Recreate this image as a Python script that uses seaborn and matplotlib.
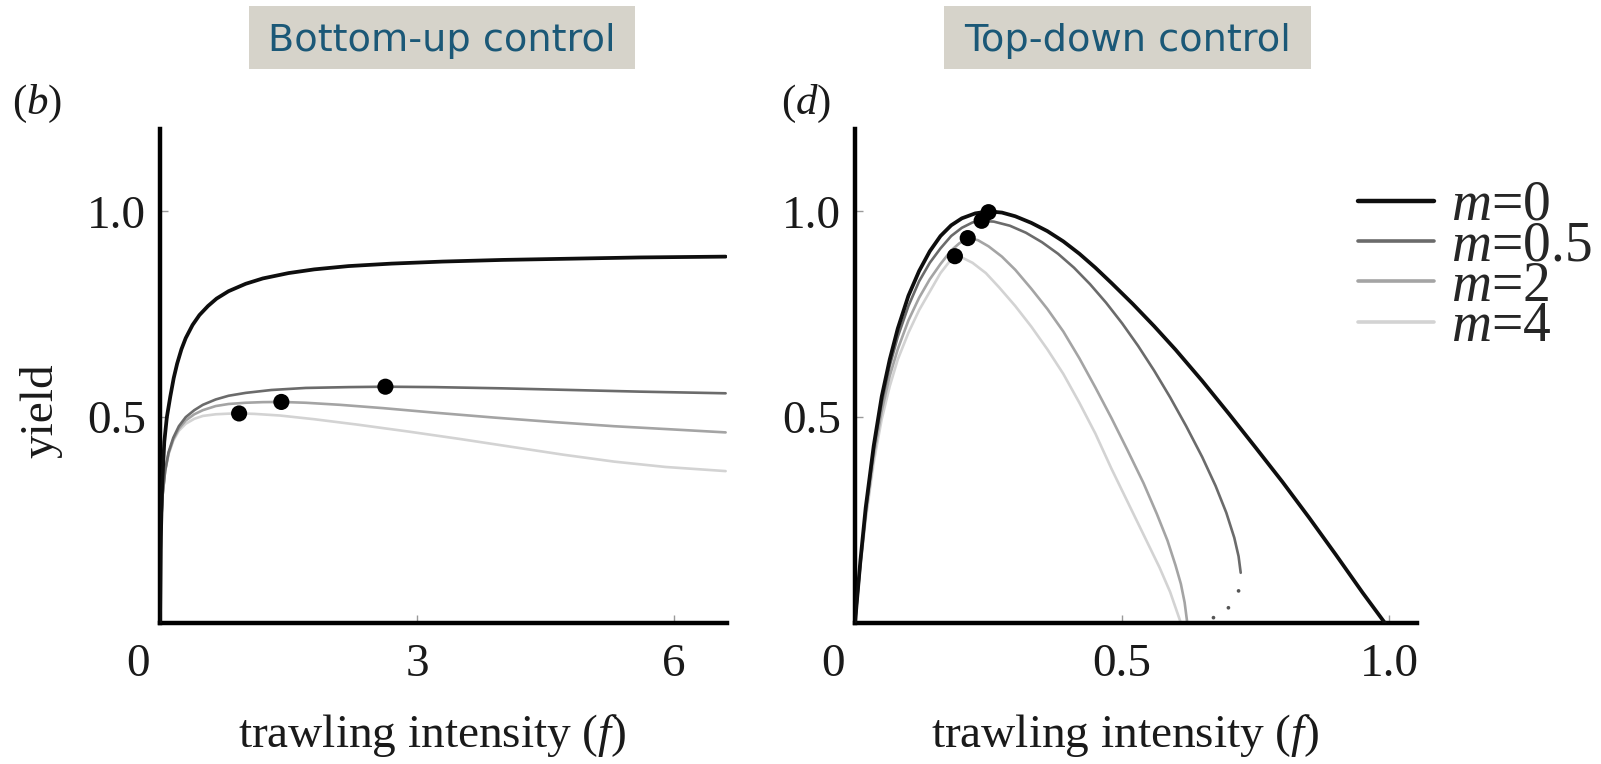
import numpy as np
import pandas as pd
import matplotlib
matplotlib.use("Agg")
import matplotlib.pyplot as plt
import matplotlib.transforms as mtransforms
from matplotlib.patches import Rectangle
from matplotlib.lines import Line2D
import seaborn as sns

# ---------------- data ----------------
m_levels = ["0", "0.5", "2", "4"]
legend_labels = ["$m$=0", "$m$=0.5", "$m$=2", "$m$=4"]
panel_titles = ["Bottom-up control", "Top-down control"]
panel_tags = ["($b$)", "($d$)"]

# Bottom-up control (panel b)
bu_f_m0 = [0, 0.01, 0.025, 0.05, 0.08, 0.12, 0.16, 0.2, 0.25, 0.3, 0.38, 0.46, 0.56, 0.66,
           0.8, 1.0, 1.2, 1.5, 1.8, 2.2, 2.7, 3.3, 4.0, 4.8, 5.6, 6.6]
bu_y_m0 = [0, 0.21, 0.335, 0.44, 0.50, 0.55, 0.595, 0.63, 0.665, 0.692, 0.724, 0.748, 0.77, 0.788,
           0.806, 0.824, 0.837, 0.85, 0.859, 0.867, 0.873, 0.878, 0.882, 0.885, 0.888, 0.89]
bu_f_m05 = [0, 0.005, 0.015, 0.03, 0.06, 0.1, 0.155, 0.22, 0.3, 0.4, 0.5, 0.65, 0.8, 1.0,
            1.3, 1.7, 2.2, 2.63, 3.2, 4.0, 4.8, 5.6, 6.6]
bu_y_m05 = [0, 0.15, 0.25, 0.31, 0.37, 0.415, 0.45, 0.478, 0.50, 0.517, 0.53, 0.543, 0.552, 0.559,
            0.566, 0.571, 0.573, 0.574, 0.573, 0.57, 0.566, 0.562, 0.558]
bu_f_m2 = [0, 0.005, 0.015, 0.03, 0.06, 0.1, 0.155, 0.22, 0.3, 0.4, 0.5, 0.65, 0.8, 1.0,
           1.2, 1.416, 1.7, 2.1, 2.6, 3.2, 3.9, 4.6, 5.3, 6.0, 6.6]
bu_y_m2 = [0, 0.15, 0.25, 0.31, 0.37, 0.412, 0.446, 0.472, 0.492, 0.507, 0.517, 0.527, 0.532, 0.535,
           0.5365, 0.537, 0.535, 0.53, 0.522, 0.511, 0.499, 0.488, 0.478, 0.47, 0.463]
bu_f_m4 = [0, 0.005, 0.015, 0.03, 0.06, 0.1, 0.155, 0.22, 0.3, 0.4, 0.5, 0.65, 0.8, 0.923,
           1.1, 1.4, 1.8, 2.3, 2.9, 3.5, 4.1, 4.7, 5.3, 5.9, 6.6]
bu_y_m4 = [0, 0.15, 0.25, 0.31, 0.368, 0.41, 0.443, 0.467, 0.484, 0.496, 0.503, 0.507, 0.5085, 0.509,
           0.508, 0.504, 0.495, 0.482, 0.465, 0.447, 0.428, 0.409, 0.392, 0.379, 0.369]
bu_opt_f = [2.63, 1.416, 0.923]
bu_opt_y = [0.574, 0.537, 0.509]

# Top-down control (panel d)
td_f_m0 = [0, 0.01, 0.02, 0.035, 0.05, 0.065, 0.08, 0.1, 0.12, 0.14, 0.16, 0.18, 0.2, 0.225,
           0.25, 0.275, 0.3, 0.33, 0.36, 0.39, 0.42, 0.45, 0.48, 0.52, 0.56, 0.6, 0.65, 0.7,
           0.75, 0.8, 0.85, 0.9, 0.95, 0.992]
td_y_m0 = [0, 0.15, 0.28, 0.43, 0.55, 0.64, 0.715, 0.795, 0.855, 0.903, 0.94, 0.966, 0.983, 0.995,
           1.0, 0.997, 0.988, 0.972, 0.952, 0.927, 0.897, 0.863, 0.826, 0.775, 0.721, 0.664, 0.588, 0.508,
           0.426, 0.343, 0.256, 0.166, 0.074, 0.0]
td_f_m05 = [0, 0.01, 0.02, 0.035, 0.05, 0.065, 0.08, 0.1, 0.12, 0.14, 0.16, 0.18, 0.2, 0.22,
            0.237, 0.26, 0.29, 0.32, 0.35, 0.38, 0.41, 0.44, 0.47, 0.5, 0.53, 0.56, 0.59, 0.62,
            0.65, 0.675, 0.695, 0.71, 0.718, 0.722]
td_y_m05 = [0, 0.145, 0.27, 0.42, 0.535, 0.625, 0.695, 0.77, 0.83, 0.875, 0.91, 0.94, 0.96, 0.973,
            0.977, 0.975, 0.965, 0.948, 0.925, 0.897, 0.863, 0.823, 0.778, 0.728, 0.673, 0.613, 0.548, 0.478,
            0.403, 0.333, 0.268, 0.207, 0.162, 0.122]
td_f_m2 = [0, 0.01, 0.02, 0.035, 0.05, 0.065, 0.08, 0.1, 0.12, 0.14, 0.16, 0.18, 0.195, 0.211,
           0.23, 0.25, 0.275, 0.3, 0.33, 0.36, 0.39, 0.42, 0.45, 0.48, 0.51, 0.54, 0.565, 0.585,
           0.6, 0.61, 0.617, 0.622]
td_y_m2 = [0, 0.14, 0.26, 0.405, 0.515, 0.60, 0.665, 0.735, 0.79, 0.835, 0.872, 0.905, 0.922, 0.935,
           0.93, 0.915, 0.89, 0.858, 0.812, 0.763, 0.708, 0.643, 0.572, 0.498, 0.42, 0.34, 0.265, 0.20,
           0.14, 0.095, 0.05, 0.0]
td_f_m4 = [0, 0.01, 0.02, 0.035, 0.05, 0.065, 0.08, 0.1, 0.12, 0.14, 0.16, 0.175, 0.187, 0.2,
           0.22, 0.245, 0.27, 0.3, 0.33, 0.36, 0.39, 0.42, 0.45, 0.48, 0.51, 0.54, 0.57, 0.59, 0.61]
td_y_m4 = [0, 0.135, 0.25, 0.39, 0.495, 0.575, 0.64, 0.705, 0.76, 0.805, 0.85, 0.875, 0.891, 0.888,
           0.875, 0.85, 0.815, 0.77, 0.72, 0.665, 0.605, 0.535, 0.46, 0.375, 0.295, 0.215, 0.135, 0.075, 0.0]
td_opt_f = [0.25, 0.237, 0.211, 0.187]
td_opt_y = [0.998, 0.977, 0.935, 0.891]
# unstable-branch points of m=0.5
td_unstable_f = [0.718, 0.699, 0.671]
td_unstable_y = [0.078, 0.037, 0.013]

x_ticks = [[0, 3, 6], [0, 0.5, 1.0]]
x_ticklabels = [["0", "3", "6"], ["0", "0.5", "1.0"]]
y_ticks = [0.5, 1.0]
y_ticklabels = ["0.5", "1.0"]

# ---------------- styling ----------------
palette = {"0": "#0e0e0e", "0.5": "#6b6b6b", "2": "#a4a4a4", "4": "#d3d3d3"}
widths = {"0": 2.7, "0.5": 1.9, "2": 1.9, "4": 1.9}

sns.set_theme(style="white")
plt.rcParams["font.family"] = ["Liberation Serif", "DejaVu Serif"]
plt.rcParams["mathtext.fontset"] = "custom"
plt.rcParams["mathtext.it"] = "Liberation Serif:italic"
plt.rcParams["mathtext.rm"] = "Liberation Serif"

W, H = 1601, 764
fig = plt.figure(figsize=(W / 100, H / 100), dpi=100, facecolor="white")

def px_axes(x0, x1, y0, y1):
    return fig.add_axes([x0 / W, 1 - y1 / H, (x1 - x0) / W, (y1 - y0) / H])

ax_b = px_axes(160, 727, 129, 623)
ax_d = px_axes(855, 1417, 129, 623)

def long_df(series):
    rows = []
    for m, fs, ys in series:
        for f, y in zip(fs, ys):
            rows.append({"m": m, "f": f, "yield": y})
    return pd.DataFrame(rows)

df_b = long_df([("0", bu_f_m0, bu_y_m0), ("0.5", bu_f_m05, bu_y_m05),
                ("2", bu_f_m2, bu_y_m2), ("4", bu_f_m4, bu_y_m4)])
df_d = long_df([("0", td_f_m0, td_y_m0), ("0.5", td_f_m05, td_y_m05),
                ("2", td_f_m2, td_y_m2), ("4", td_f_m4, td_y_m4)])

for ax, df in [(ax_b, df_b), (ax_d, df_d)]:
    for m in ["4", "2", "0.5", "0"]:
        sub = df[df["m"] == m]
        sns.lineplot(data=sub, x="f", y="yield", ax=ax, color=palette[m],
                     linewidth=widths[m], sort=False, estimator=None,
                     legend=False, zorder=3 if m == "0" else 2)
        ax.lines[-1].set_solid_joinstyle("round")

sns.scatterplot(x=bu_opt_f, y=bu_opt_y, ax=ax_b, color="black", s=135,
                edgecolor="none", zorder=5, legend=False)
sns.scatterplot(x=td_opt_f, y=td_opt_y, ax=ax_d, color="black", s=135,
                edgecolor="none", zorder=5, legend=False)
sns.scatterplot(x=td_unstable_f, y=td_unstable_y, ax=ax_d, color="#555555",
                s=7, edgecolor="none", zorder=4, legend=False)

limits = [(0, 6.616), (0, 1.052)]
for i, ax in enumerate([ax_b, ax_d]):
    ax.set_xlim(*limits[i])
    ax.set_ylim(0, 1.2)
    ax.set_facecolor("white")
    sns.despine(ax=ax)
    for s in ["left", "bottom"]:
        ax.spines[s].set_linewidth(3.2)
        ax.spines[s].set_color("black")
    ax.set_xticks(x_ticks[i], x_ticklabels[i])
    ax.set_yticks(y_ticks, y_ticklabels)
    ax.tick_params(axis="both", direction="in", length=6, width=1,
                   color="#9a9a9a", labelsize=34, labelcolor="#1a1a1a",
                   bottom=True, left=True)
    ax.tick_params(axis="x", pad=15)
    ax.tick_params(axis="y", pad=10)
    # the origin label sits left of the corner
    lbl0 = ax.get_xticklabels()[0]
    lbl0.set_transform(lbl0.get_transform() +
                       mtransforms.ScaledTranslation(-0.22, 0, fig.dpi_scale_trans))
    ax.set_xlabel("trawling intensity ($f$)", fontsize=34, color="#1a1a1a", va="top")
    ax.xaxis.set_label_coords(0.48, -0.18)
    ax.set_ylabel("")

ax_b.set_ylabel("yield", fontsize=34, color="#1a1a1a", va="center")
ax_b.yaxis.set_label_coords(-0.21, 0.43)

# header boxes
boxes = [(249, 635), (944, 1311)]
for (x0, x1), title in zip(boxes, panel_titles):
    fig.add_artist(Rectangle((x0 / W, 1 - 69 / H), (x1 - x0) / W, 63 / H,
                             transform=fig.transFigure, facecolor="#d6d3ca",
                             edgecolor="none", zorder=0))
    fig.text((x0 + x1) / 2 / W, 1 - 51 / H, title, ha="center", va="baseline",
             fontsize=27.5, color="#1b5877", family="DejaVu Sans")

# panel tags
for x, tag in zip([12, 781], panel_tags):
    fig.text(x / W, 1 - 114 / H, tag, ha="left", va="baseline", fontsize=31,
             color="#1a1a1a")

# legend
handles = [Line2D([], [], color=palette[m], linewidth=3.2 if m == "0" else 2.6)
           for m in m_levels]
fig.legend(handles, legend_labels, loc="upper left",
           bbox_to_anchor=(1358 / W, 1 - 180 / H), frameon=False,
           fontsize=40, handlelength=1.37, handletextpad=0.3,
           labelspacing=-0.21, borderpad=0, borderaxespad=0)

fig.savefig("out.png", dpi=100, facecolor="white")
